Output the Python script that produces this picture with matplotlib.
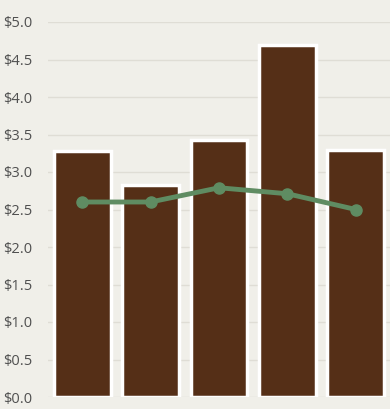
import matplotlib
matplotlib.use("Agg")
import matplotlib.pyplot as plt

categories = ["A", "B", "C", "D", "E"]
bar_values = [3.28, 2.83, 3.43, 4.69, 3.29]
line_values = [2.60, 2.60, 2.79, 2.71, 2.50]
yticks = [0.0, 0.5, 1.0, 1.5, 2.0, 2.5, 3.0, 3.5, 4.0, 4.5, 5.0]
ytick_labels = ["$%.1f" % v for v in yticks]

bg = "#f0efe9"
fig = plt.figure(figsize=(3.90, 4.09), dpi=100, facecolor=bg)
ax = fig.add_axes([48/390, 12/409, 342/390, 375/409])
ax.set_facecolor(bg)

x = list(range(len(categories)))
ax.bar(x, bar_values, width=0.83, color="#552f17", edgecolor="white", linewidth=2.5, zorder=2)
ax.plot(x, line_values, color="#5f8c62", linewidth=3.5, marker="o", markersize=8, zorder=3)

ax.set_xlim(-0.5, 4.5)
ax.set_ylim(0, 5.0)
ax.set_yticks(yticks)
ax.set_yticklabels(ytick_labels, fontfamily="Open Sans", fontsize=10.5, color="#505050")
ax.set_xticks([])
ax.tick_params(axis="y", length=0, pad=11)
ax.grid(axis="y", color="#dfddd5", linewidth=1, zorder=0)
ax.set_axisbelow(True)
for s in ax.spines.values():
    s.set_visible(False)

fig.savefig("out.png", dpi=100, facecolor=bg)
